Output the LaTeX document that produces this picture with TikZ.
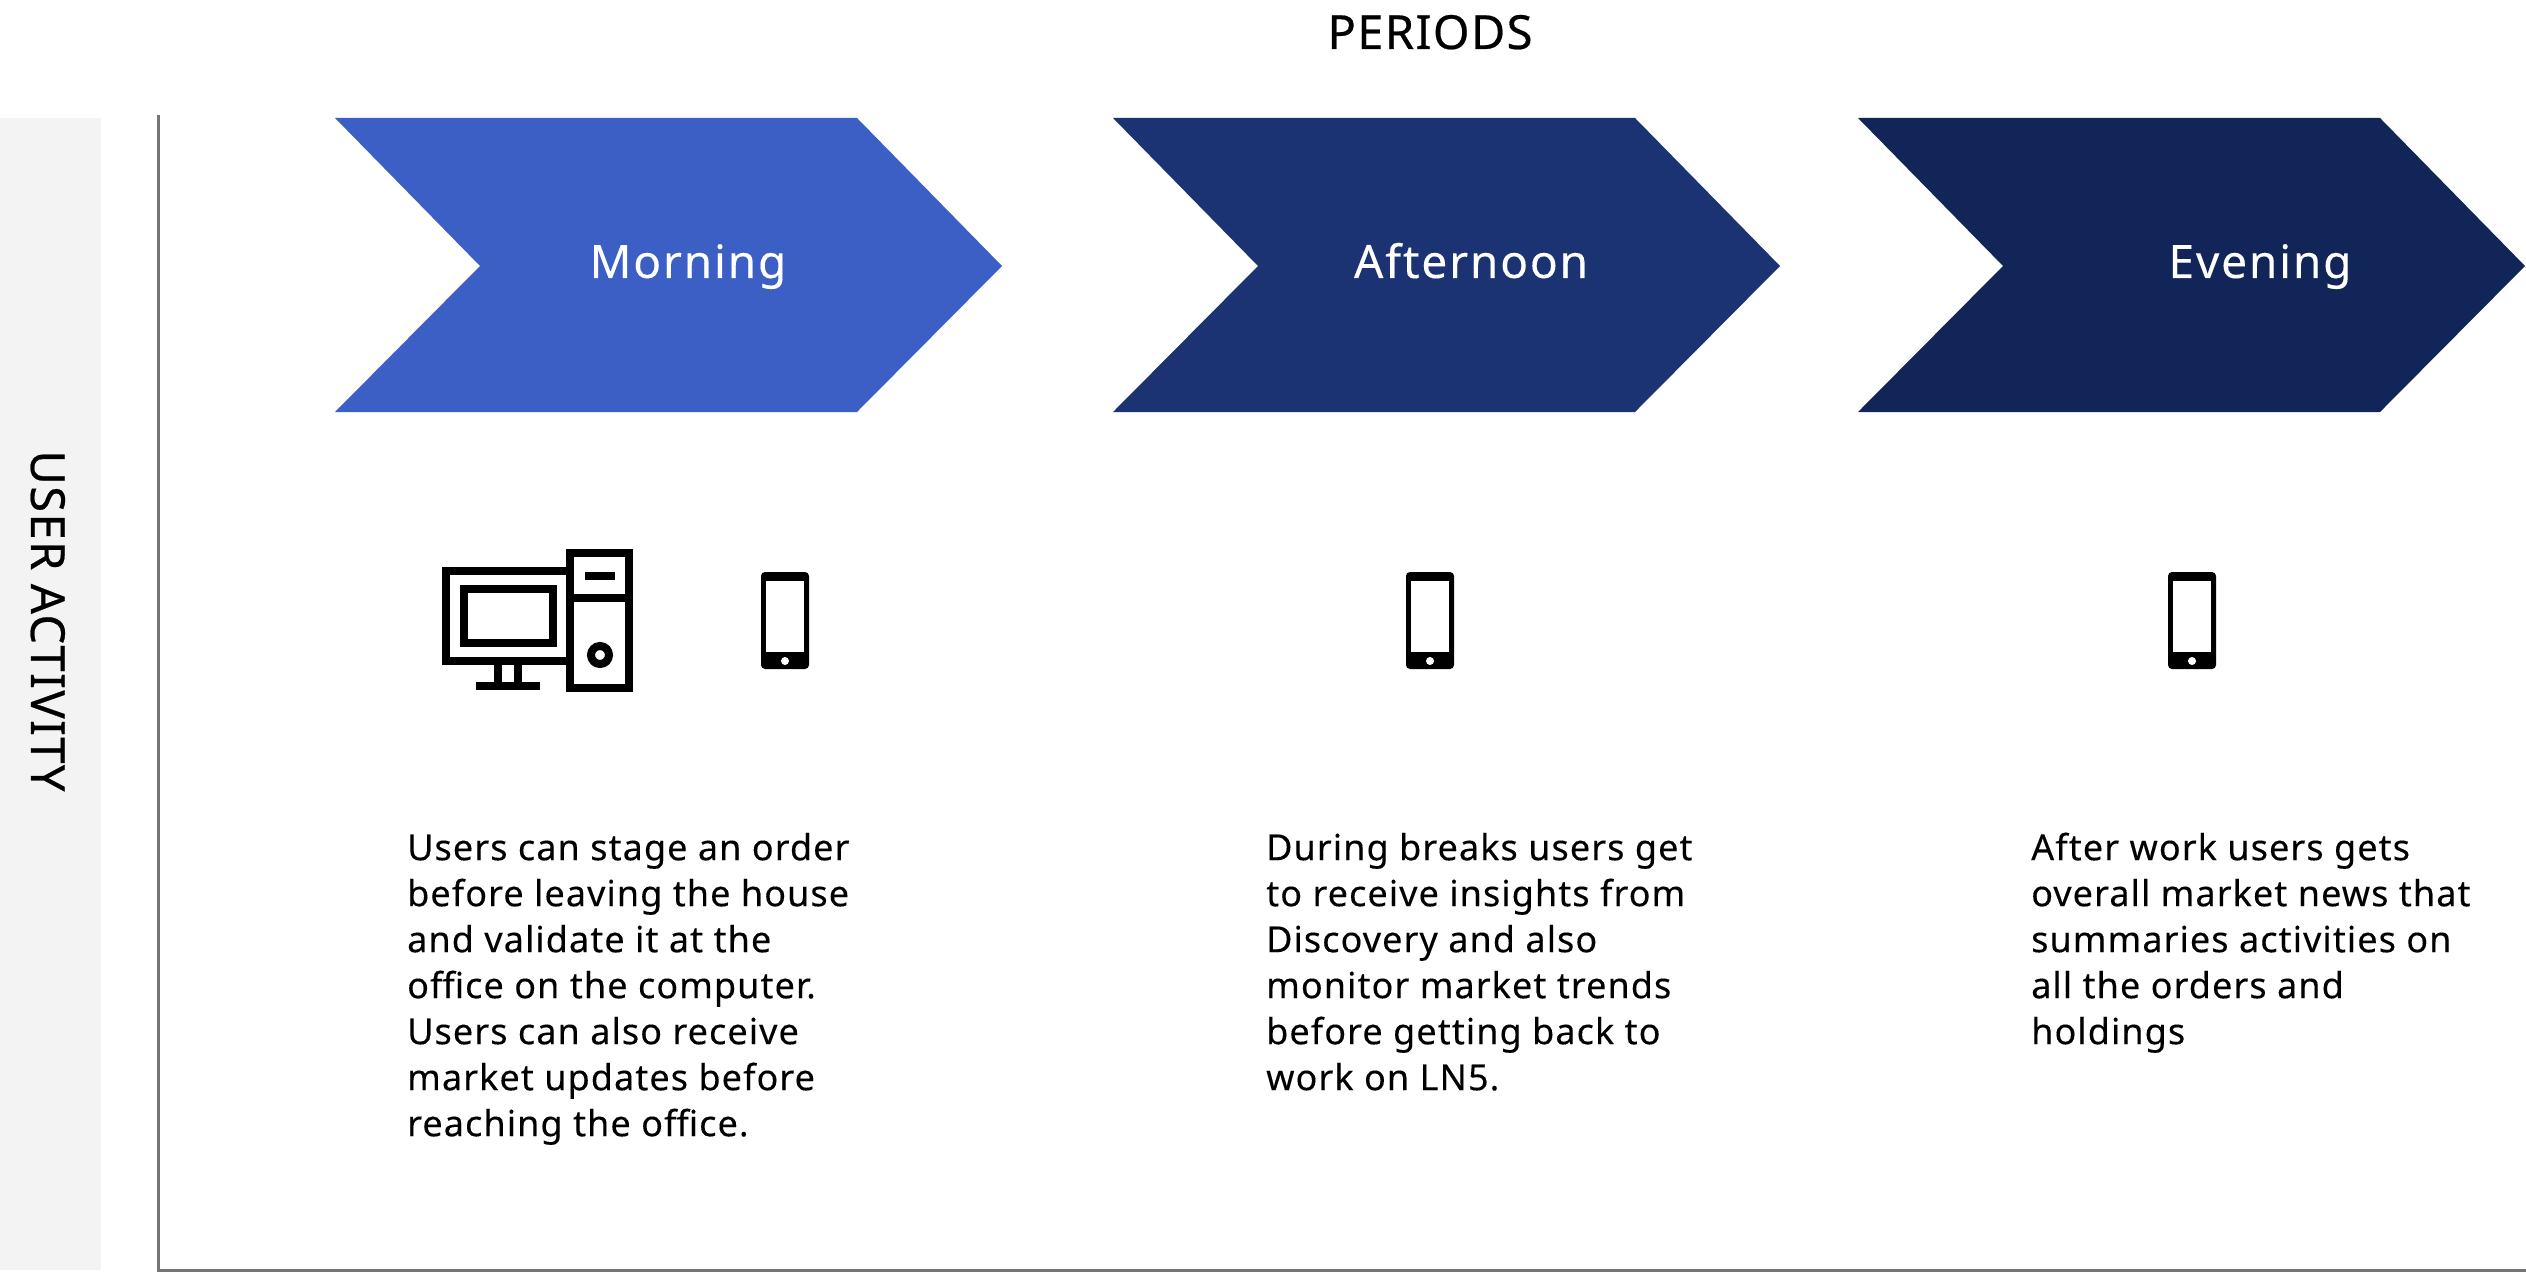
\documentclass[tikz,border=0pt]{standalone}
\usepackage{fontspec}
\setmainfont{Noto Sans}
\newfontfamily\bodyfam[LetterSpace=3,FakeBold=0.2]{Noto Sans}
\newfontfamily\chevfam[LetterSpace=4,FakeBold=0.2]{Noto Sans}
\newfontfamily\headfam[LetterSpace=3,FakeBold=0.5]{Noto Sans}
\definecolor{bandgrey}{HTML}{F3F3F3}
\definecolor{axisgrey}{HTML}{757575}
\definecolor{cmorning}{HTML}{3B5FC4}
\definecolor{cafternoon}{HTML}{1B3372}
\definecolor{cevening}{HTML}{122558}
\tikzset{
  chevfill/.style={fill=#1,draw=none},
  chevlabel/.style={text=white,font=\chevfam\fontsize{46}{50}\selectfont,inner sep=0pt,anchor=base},
  bodytext/.style={font=\bodyfam\fontsize{36}{46}\selectfont,align=left,anchor=north west,inner sep=0pt,text=black},
  heading/.style={font=\headfam\fontsize{47}{48}\selectfont,inner sep=0pt,text=black,anchor=base},
  axisline/.style={draw=axisgrey,line width=3pt},
  iconline/.style={draw=black,line width=8pt,fill=none,miter limit=10},
  iconfill/.style={fill=black,draw=none},
}
\newcommand{\firstline}{\rule{0pt}{30pt}}
\newcommand{\chevshape}[2]{%
  \fill[chevfill=#2] (#1,118) -- ({#1+522},118) -- ({#1+667},266) -- ({#1+522},412) -- (#1,412) -- ({#1+145},266) -- cycle;}
\newcommand{\phoneicon}[1]{%
  \begin{scope}[shift={(#1,0)}]
    \fill[iconfill,rounded corners=4pt] (-24,572) rectangle (24,669);
    \fill[white] (-19,581) rectangle (19,652);
    \fill[white] (0,661) circle (4);
  \end{scope}}
\begin{document}
\begin{tikzpicture}[x=1pt,y=-1pt]
\useasboundingbox (0,0) rectangle (2526,1273);
\fill[white] (0,0) rectangle (2526,1273);
\fill[bandgrey] (0,118) rectangle (101,1270);
\coordinate (axistop) at (158.5,115);
\coordinate (axiscorner) at (158.5,1270.5);
\coordinate (axisend) at (2526,1270.5);
\draw[axisline] (axistop) -- (axiscorner) -- (axisend);
\chevshape{335}{cmorning}
\chevshape{1113}{cafternoon}
\chevshape{1858}{cevening}
\node[heading] (periods) at (1430,49) {PERIODS};
\node[heading,rotate=-90] (useractivity) at (31,621) {USER ACTIVITY};
\node[chevlabel] (morning) at (688,278) {Morning};
\node[chevlabel] (afternoon) at (1471,278) {Afternoon};
\node[chevlabel] (evening) at (2260,278) {Evening};
% computer
\draw[iconline] (446,571) rectangle (570,661);
\draw[iconline] (464,589) rectangle (553,643);
\draw[iconline] (570,553) rectangle (629,688);
\draw[iconline] (570,598) -- (629,598);
\fill[iconfill] (585,572) rectangle (615,580);
\draw[iconline] (600,655) circle (9);
\draw[iconline] (498,665) -- (498,684);
\draw[iconline] (518,665) -- (518,684);
\fill[iconfill] (476,682) rectangle (540,690);
\phoneicon{785}
\phoneicon{1430}
\phoneicon{2192}
\node[bodytext] (textmorning) at (407,830) {\firstline Users can stage an order\\before leaving the house\\and validate it at the\\office on the computer.\\Users can also receive\\market updates before\\reaching the office.};
\node[bodytext] (textafternoon) at (1266,830) {\firstline During breaks users get\\to receive insights from\\Discovery and also\\monitor market trends\\before getting back to\\work on LN5.};
\node[bodytext] (textevening) at (2031,830) {\firstline After work users gets\\overall market news that\\summaries activities on\\all the orders and\\holdings};
\end{tikzpicture}
\end{document}
